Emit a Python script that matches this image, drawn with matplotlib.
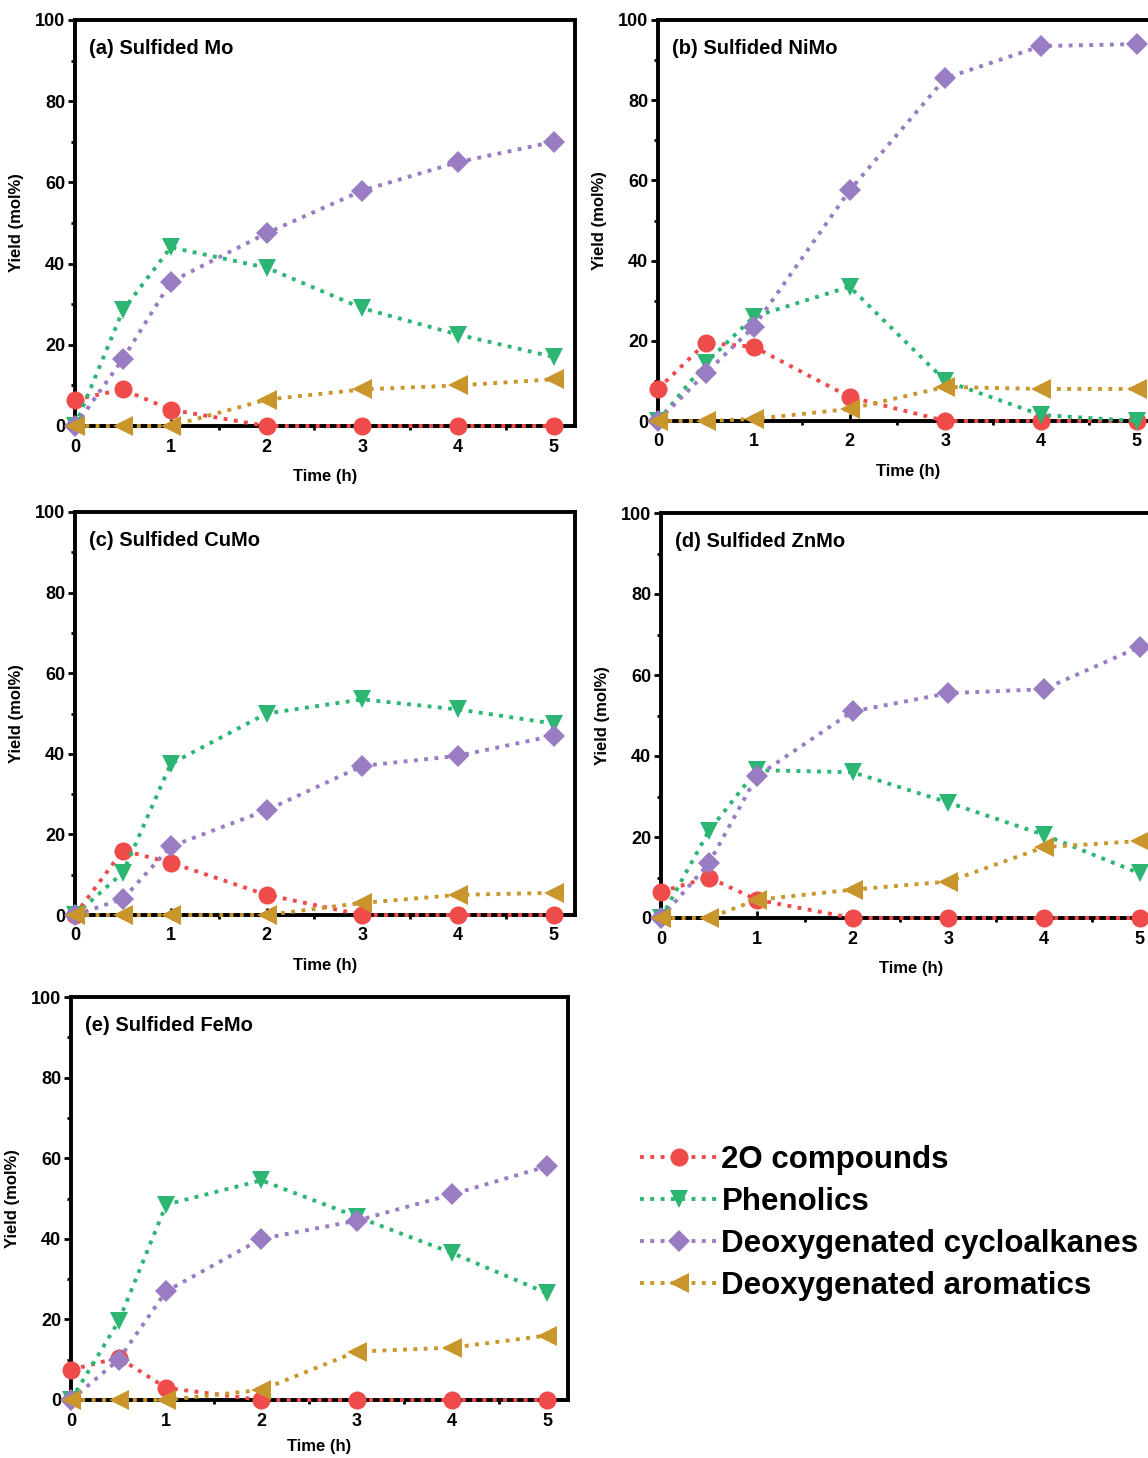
"""Product yield vs time for five sulfided catalysts."""

import matplotlib
matplotlib.use("Agg")
import matplotlib.pyplot as plt
from matplotlib.ticker import MultipleLocator

plt.rcParams["font.family"] = ["Liberation Sans", "DejaVu Sans"]
plt.rcParams["font.weight"] = "bold"

time_h = [0, 0.5, 1, 2, 3, 4, 5]
series_names = ["2O compounds", "Phenolics", "Deoxygenated cycloalkanes",
                "Deoxygenated aromatics"]
panel_titles = ["(a) Sulfided Mo", "(b) Sulfided NiMo", "(c) Sulfided CuMo",
                "(d) Sulfided ZnMo", "(e) Sulfided FeMo"]

# yields (mol%) per panel: 2O, phenolics, cycloalkanes, aromatics
mo_2o = [6.5, 9, 4, 0, 0, 0, 0]
mo_phen = [0, 28.5, 44, 39, 29, 22.5, 17]
mo_cyclo = [0, 16.5, 35.5, 47.5, 58, 65, 70]
mo_arom = [0, 0, 0, 6.5, 9, 10, 11.5]

nimo_2o = [8, 19.5, 18.5, 6, 0, 0, 0]
nimo_phen = [0, 14.5, 26, 33.5, 10, 1.5, 0]
nimo_cyclo = [0, 12, 23.5, 57.5, 85.5, 93.5, 94]
nimo_arom = [0, 0, 0.5, 3, 8.5, 8, 8]

cumo_2o = [0, 16, 13, 5, 0, 0, 0]
cumo_phen = [0, 10.5, 37.5, 50, 53.5, 51, 47.5]
cumo_cyclo = [0, 4, 17, 26, 37, 39.5, 44.5]
cumo_arom = [0, 0, 0, 0, 3, 5, 5.5]

znmo_2o = [6.5, 10, 4.5, 0, 0, 0, 0]
znmo_phen = [0, 21.5, 36.5, 36, 28.5, 20.5, 11]
znmo_cyclo = [0, 13.5, 35, 51, 55.5, 56.5, 67]
znmo_arom = [0, 0, 4.5, 7, 9, 17.5, 19]

femo_2o = [7.5, 10.5, 3, 0, 0, 0, 0]
femo_phen = [0, 19.5, 48.5, 54.5, 45.5, 36.5, 26.5]
femo_cyclo = [0, 10, 27, 40, 44.5, 51, 58]
femo_arom = [0, 0, 0, 2.5, 12, 13, 16]

panels = [
    [mo_2o, mo_phen, mo_cyclo, mo_arom],
    [nimo_2o, nimo_phen, nimo_cyclo, nimo_arom],
    [cumo_2o, cumo_phen, cumo_cyclo, cumo_arom],
    [znmo_2o, znmo_phen, znmo_cyclo, znmo_arom],
    [femo_2o, femo_phen, femo_cyclo, femo_arom],
]

colors = ["#EF4B4B", "#2DB673", "#9A7CC2", "#C9962C"]
markers = ["o", "v", "D", "<"]
msizes = [13, 13, 11, 14]

# axes rectangles in figure pixels: left, top, width, height (0 line at top+height)
W, H = 1148, 1458
rects_px = [
    (75, 20, 500, 406),
    (658, 20, 500, 401),
    (75, 512, 500, 403),
    (661, 513, 500, 405),
    (71, 997, 497, 403),
]
xlabel_pads = [10, 10, 10, 10, 7]

fig = plt.figure(figsize=(W / 100, H / 100), dpi=100)

handles = []
for i, (rect, data) in enumerate(zip(rects_px, panels)):
    l, t, w, h = rect
    ax = fig.add_axes([l / W, 1 - (t + h) / H, w / W, h / H])
    for j, vals in enumerate(data):
        (ln,) = ax.plot(time_h, vals, linestyle=":", linewidth=2.8,
                        color=colors[j], marker=markers[j], markersize=msizes[j],
                        markeredgewidth=0, clip_on=False, zorder=3 + j * 0.1,
                        label=series_names[j])
        if i == 0:
            handles.append(ln)
    ax.set_xlim(0, 5.22)
    ax.set_ylim(0, 100)
    ax.xaxis.set_major_locator(MultipleLocator(1))
    ax.xaxis.set_minor_locator(MultipleLocator(0.5))
    ax.yaxis.set_major_locator(MultipleLocator(20))
    ax.yaxis.set_minor_locator(MultipleLocator(10))
    ax.tick_params(axis="both", which="major", labelsize=13, width=2, length=5)
    ax.tick_params(axis="both", which="minor", width=2, length=3)
    ax.tick_params(axis="x", direction="in", pad=9)
    ax.tick_params(axis="y", direction="out", pad=2)
    for sp in ax.spines.values():
        sp.set_linewidth(2.8)
    ax.set_xlabel("Time (h)", fontsize=12, fontweight="bold",
                  labelpad=xlabel_pads[i])
    ax.set_ylabel("Yield (mol%)", fontsize=12, fontweight="bold", labelpad=8)
    ax.text(0.028, 0.93, panel_titles[i], transform=ax.transAxes,
            fontsize=14.5, fontweight="bold", va="center", ha="left")

fig.legend(handles=handles, loc="center left",
           bbox_to_anchor=(0.544, 1 - 1223 / H), frameon=False,
           prop={"size": 22.5, "weight": "bold"}, handlelength=2.5,
           handletextpad=0.1, labelspacing=0.38, borderpad=0)

fig.savefig("out.png", dpi=100)
plt.close(fig)
